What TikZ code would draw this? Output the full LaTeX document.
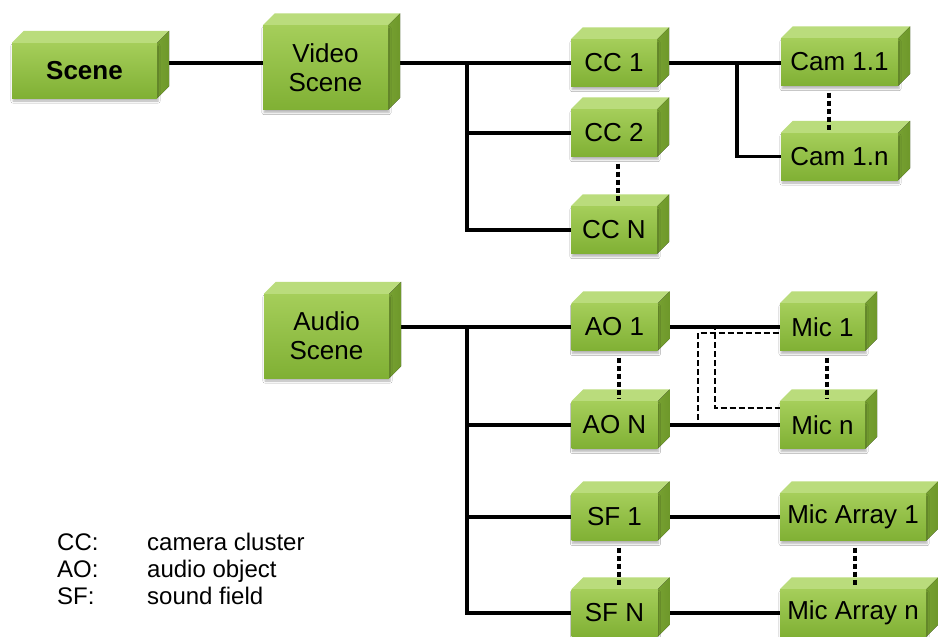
\documentclass[tikz,border=0pt]{standalone}
\usepackage{fontspec}
\setmainfont{Liberation Sans}
\usetikzlibrary{positioning,backgrounds,shadows.blur}
\definecolor{cubetop}{RGB}{165,206,90}
\definecolor{cubebot}{RGB}{128,176,52}
\definecolor{cubeup}{RGB}{186,220,124}
\definecolor{cubeside}{RGB}{110,152,42}
\newcommand{\boxfont}{\fontsize{26}{29}\selectfont}
\newcommand{\keyfont}{\fontsize{24}{27}\selectfont}
\tikzset{
  cubenode/.style={top color=cubetop, bottom color=cubebot, minimum height=47pt, minimum width=86pt,
    inner sep=0pt, align=center, font=\boxfont,
    blur shadow={shadow xshift=1pt, shadow yshift=-3pt, shadow blur steps=5, shadow opacity=30},
    append after command={\pgfextra{
      \fill[cubeup] (\tikzlastnode.north west) -- ++(12,-12) -- ([shift={(12,-12)}]\tikzlastnode.north east)
        -- (\tikzlastnode.north east) -- cycle;
      \fill[left color=cubeside!85!cubetop, right color=cubeside] (\tikzlastnode.north east) -- ++(12,-12)
        -- ([shift={(12,-12)}]\tikzlastnode.south east) -- (\tikzlastnode.south east) -- cycle;
    }}},
  bigcube/.style={cubenode, minimum width=125pt, minimum height=84pt},
  link/.style={line width=3.5pt},
  dashlink/.style={line width=2pt, dash pattern=on 6pt off 3pt},
  dotlink/.style={line width=4pt, dash pattern=on 5pt off 3pt, shorten <=7pt, shorten >=3pt},
  keynode/.style={anchor=base west, font=\keyfont, inner sep=0pt}
}

\begin{document}
\begin{tikzpicture}[x=1pt, y=-1pt]
  \useasboundingbox (0,0) rectangle (938,637);
  % scenes
  \node[cubenode, minimum width=145pt, minimum height=55pt, font=\boxfont\bfseries] (scene) at (84.5,70.5) {Scene};
  \node[bigcube] (video) at (325.5,67.5) {Video\\Scene};
  \node[bigcube] (audio) at (326.5,336) {Audio\\Scene};
  % video part
  \node[cubenode] (cc1) at (614,63) {CC 1};
  \node[cubenode] (cc2) at (614,133) {CC 2};
  \node[cubenode] (ccn) at (614,230) {CC N};
  \node[cubenode, minimum width=117pt] (cam11) at (839.5,62) {Cam 1.1};
  \node[cubenode, minimum width=117pt] (cam1n) at (839.5,156.5) {Cam 1.n};
  % audio part
  \node[cubenode] (ao1) at (614.5,327) {AO 1};
  \node[cubenode] (aon) at (614.5,425) {AO N};
  \node[cubenode, minimum width=85pt] (mic1) at (822.5,327) {Mic 1};
  \node[cubenode, minimum width=85pt] (micn) at (822.5,425) {Mic n};
  \node[cubenode] (sf1) at (614.5,517) {SF 1};
  \node[cubenode] (sfn) at (614.5,613) {SF N};
  \node[cubenode, minimum width=146pt] (arr1) at (853,517) {Mic Array 1};
  \node[cubenode, minimum width=146pt] (arrn) at (853,613) {Mic Array n};
  % bus lines
  \coordinate (vbus) at (467,0);
  \coordinate (cbus) at (737,0);
  \begin{scope}[on background layer]
    \fill[white] (0,0) rectangle (938,637);
    \draw[link] (scene.east |- cc1.west) -- (video.west |- cc1.west);
    \draw[link] (video.east |- cc1.west) -- (cc1.west);
    \draw[link] (vbus |- cc1.west) |- (cc2.west);
    \draw[link] (vbus |- cc2.west) |- (ccn.west);
    \draw[link] (cc1.east) -- (cam11.west |- cc1.east);
    \draw[link] (cbus |- cc1.east) |- (cam1n.west);
    \draw[link] (audio.east |- ao1.west) -- (ao1.west);
    \draw[link] (vbus |- ao1.west) |- (aon.west);
    \draw[link] (vbus |- aon.west) |- (sf1.west);
    \draw[link] (vbus |- sf1.west) |- (sfn.west);
    \draw[link] (ao1.east) -- (mic1.west);
    \draw[link] (aon.east) -- (micn.west);
    \draw[link] (sf1.east) -- (arr1.west);
    \draw[link] (sfn.east) -- (arrn.west);
    \draw[dashlink] (aon.east) -- ++(40,0) |- ([yshift=-6pt]mic1.west);
    \draw[dashlink] (ao1.east) -- ++(57,0) |- ([yshift=17pt]micn.west);
  \end{scope}
  % dotted continuation
  \draw[dotlink] ([xshift=4pt]cc2.south) -- ([xshift=4pt]ccn.north);
  \draw[dotlink] ([xshift=-11pt]cam11.south) -- ([xshift=-11pt]cam1n.north);
  \draw[dotlink] ([xshift=4pt]ao1.south) -- ([xshift=4pt]aon.north);
  \draw[dotlink] ([xshift=4pt]mic1.south) -- ([xshift=4pt]micn.north);
  \draw[dotlink] ([xshift=4pt]sf1.south) -- ([xshift=4pt]sfn.north);
  \draw[dotlink] ([xshift=2pt]arr1.south) -- ([xshift=2pt]arrn.north);
  % legend
  \node[keynode] (kcc) at (57,550) {CC:};
  \node[keynode] (kao) at (57,577) {AO:};
  \node[keynode] (ksf) at (57,604) {SF:};
  \node[keynode] (tcc) at (147,550) {camera cluster};
  \node[keynode] (tao) at (147,577) {audio object};
  \node[keynode] (tsf) at (147,604) {sound field};
\end{tikzpicture}
\end{document}
